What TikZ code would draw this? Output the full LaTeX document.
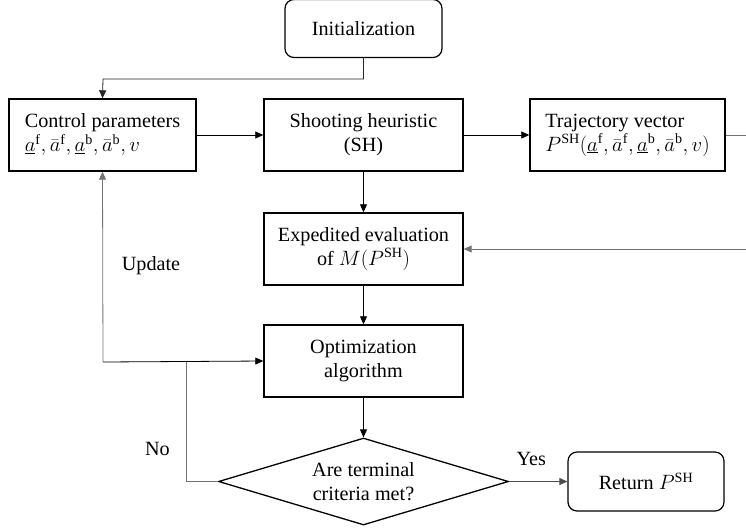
\documentclass[tikz,border=0pt]{standalone}
\usepackage{fontspec}
\setmainfont{Liberation Serif}
\usetikzlibrary{shapes.geometric,arrows.meta}
\begin{document}
\begin{tikzpicture}[x=1pt,y=-1pt,
  font=\rmfamily\fontsize{20.2}{24}\selectfont,
  box/.style={draw, line width=1.4pt, minimum width=199pt, minimum height=72pt, inner sep=0pt, align=center},
  rbox/.style={draw, line width=1.2pt, rounded corners=9pt, inner sep=0pt, align=center},
  dia/.style={draw, line width=1.3pt, shape=diamond, aspect=3.37, minimum width=290pt, minimum height=87pt, inner sep=0pt, align=center},
  arr/.style={-{Triangle[length=8pt,width=7pt]}, line width=0.8pt},
  gln/.style={line width=0.8pt, draw=black!55},
  lab/.style={inner sep=0pt}
]
\useasboundingbox (0,0) rectangle (746,531);

\node[rbox, minimum width=157pt, minimum height=58pt] (init) at (363.5,28.5) {Initialization};
\node[box, minimum width=187pt, align=left] (ctrl) at (102.5,135) {Control parameters\\$\underline{a}^{\mathrm{f}},\bar{a}^{\mathrm{f}},\underline{a}^{\mathrm{b}},\bar{a}^{\mathrm{b}},v$};
\node[box] (sh) at (363.5,135) {Shooting heuristic\\(SH)};
\node[box, minimum width=195pt, align=left] (traj) at (627.5,135) {Trajectory vector\\$P^{\mathrm{SH}}(\underline{a}^{\mathrm{f}},\bar{a}^{\mathrm{f}},\underline{a}^{\mathrm{b}},\bar{a}^{\mathrm{b}},v)$};
\node[box] (exp) at (363.5,249) {Expedited evaluation\\of $M(P^{\mathrm{SH}})$};
\node[box] (opt) at (363.5,361) {Optimization\\algorithm};
\node[dia] (term) at (363.5,481.5) {Are terminal\\criteria met?};
\node[rbox, minimum width=156pt, minimum height=59pt] (ret) at (646,481.5) {Return $P^{\mathrm{SH}}$};

\coordinate (c1) at (103,79);
\coordinate (c2) at (103,362);
\coordinate (c3) at (186,481.5);
\coordinate (c4) at (186,362);
\coordinate (r1) at (746,135);
\coordinate (r2) at (746,249);

\draw[arr, draw=black!85] (init.south) |- (c1) -- (ctrl.north);
\draw[arr] (ctrl.east) -- (sh.west);
\draw[arr] (sh.east) -- (traj.west);
\draw[gln] (traj.east) -- (r1);
\draw[arr, draw=black!55, fill=black] (r2) -- (exp.east);
\draw[arr] (sh.south) -- (exp.north);
\draw[arr] (exp.south) -- (opt.north);
\draw[arr] (opt.south) -- (term.north);
\draw[arr, draw=black!70] (term.east) -- (ret.west) node[lab, pos=0.38, above=15pt] {Yes};
\draw[gln] (term.west) -- (c3) -- (c4);
\draw[arr] (c2) -- (opt.west);
\draw[arr, draw=black!55] (c2) -- (ctrl.south);

\node[lab] (upd) at (151,266) {Update};
\node[lab] (no) at (157.5,448.5) {No};
\end{tikzpicture}
\end{document}
